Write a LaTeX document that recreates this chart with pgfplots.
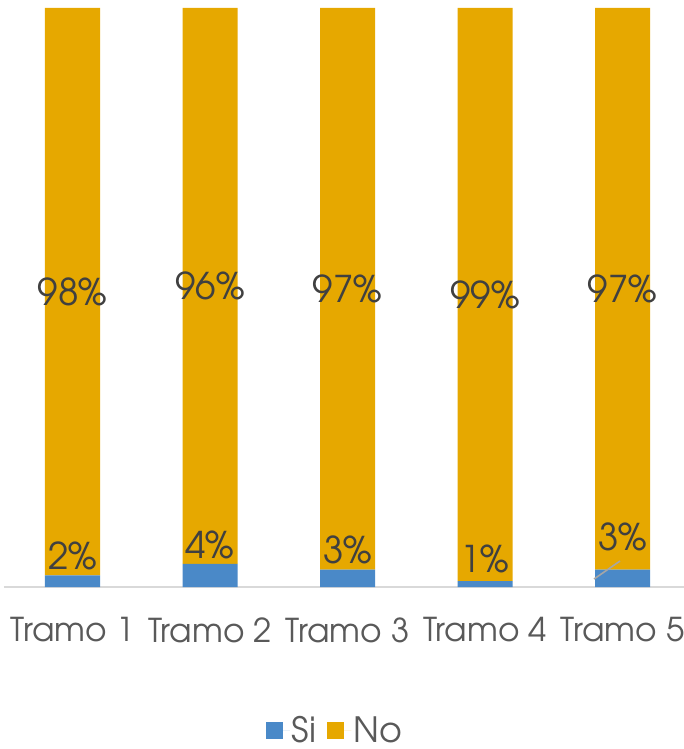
\documentclass[border=0pt]{standalone}
\usepackage{fontspec}
\setmainfont{TeX Gyre Adventor}
\usepackage{pgfplots}
\pgfplotsset{compat=1.18}
\usepackage{pgfplotstable}
\definecolor{siblue}{HTML}{4A89C8}
\definecolor{nogold}{HTML}{E6A800}
\definecolor{lbl}{HTML}{404040}
\definecolor{tck}{HTML}{595959}
\definecolor{axl}{HTML}{D9D9D9}
\definecolor{leader}{HTML}{A6A6A6}

\pgfplotstableread{
x si no
0 2 98
1 4 96
2 3 97
3 1 99
4 3 97
}\datatable

\pgfplotstableread{
x ypos val
0 5.4 2
1 7.3 4
2 6.4 3
3 4.8 1
4 8.6 3
}\silabels

\pgfplotsset{
  pctlabel/.style={
    only marks, mark=none, point meta=explicit,
    nodes near coords={\pgfmathprintnumber[assume math mode=true, fixed, precision=0]{\pgfplotspointmeta}\%},
    nodes near coords style={anchor=center, font=\fontsize{37}{40}\selectfont, text=lbl},
  },
}

\begin{document}
\begin{tikzpicture}
\useasboundingbox (-3.75bp,-162bp) rectangle (680.25bp,587bp);
\begin{axis}[
  at={(0,0)}, anchor=south west,
  scale only axis, width=687.5bp, height=579bp,
  xmin=-0.5, xmax=4.5, ymin=0, ymax=100,
  ybar stacked, bar width=55bp,
  axis y line=none, axis x line=bottom,
  x axis line style={-, draw=axl, line width=1.5bp},
  xtick={0,1,2,3,4},
  xticklabels={Tramo 1,Tramo 2,Tramo 3,Tramo 4,Tramo 5},
  major tick length=0pt,
  xticklabel style={font=\fontsize{33}{38}\selectfont, text=tck, yshift=-27bp},
  legend style={draw=none, fill=none, at={(0.482,-0.247)}, anchor=center,
    legend columns=2, font=\fontsize{35}{38}\selectfont, text=tck,
    /tikz/every even column/.append style={column sep=9bp}},
  legend image code/.code={\fill[#1] (0bp,-8.5bp) rectangle (17bp,8.5bp);
    \path (0bp,0bp) -- (24bp,0bp);},
]
\addplot[fill=siblue, draw=none] table[x=x, y=si]{\datatable};
\addplot[fill=nogold, draw=none] table[x=x, y=no]{\datatable};
\legend{Si,No}
\end{axis}
\begin{axis}[
  at={(0,0)}, anchor=south west,
  scale only axis, width=687.5bp, height=579bp,
  xmin=-0.5, xmax=4.5, ymin=0, ymax=100,
  hide axis, clip=false,
]
\addplot[pctlabel] table[x=x, y expr={(\thisrow{si}+100)/2}, meta=no]{\datatable};
\addplot[pctlabel] table[x=x, y=ypos, meta=val]{\silabels};
\draw[leader, line width=1.6bp] (axis cs:3.793,1.38) -- (axis cs:3.982,4.49);
\end{axis}
\end{tikzpicture}
\end{document}
